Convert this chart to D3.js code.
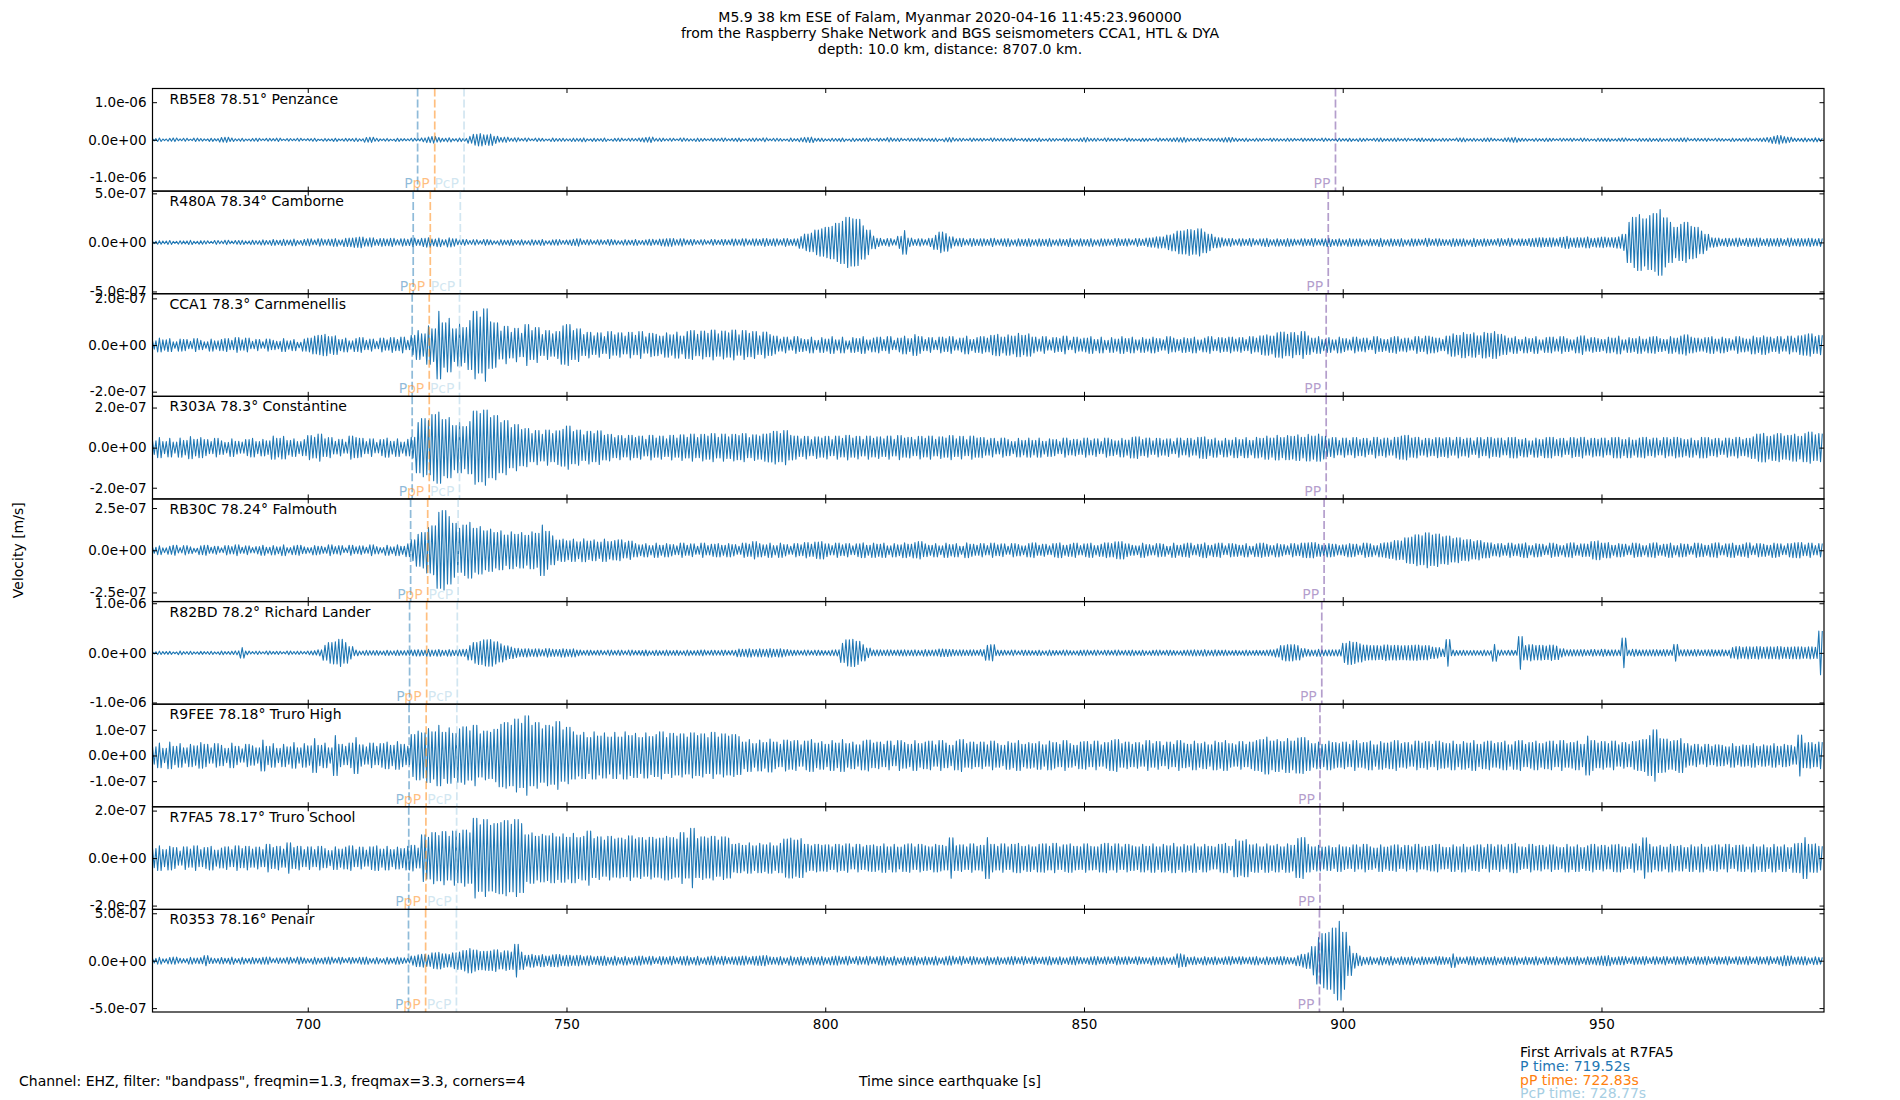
<!DOCTYPE html>
<html lang="en">
<head>
<meta charset="UTF-8">
<title>M5.9 38 km ESE of Falam - Raspberry Shake traces</title>
<style>
  body { margin: 0; background: #fff; }
  svg { display: block; font-family: "DejaVu Sans", sans-serif; }
</style>
</head>
<body>
<div id="container">
  <svg width="1900" height="1100"></svg>
</div>
<script src="https://cdn.jsdelivr.net/npm/d3@7"></script>
<script>

// stations, top to bottom
const stationCodes = ['RB5E8', 'R480A', 'CCA1', 'R303A', 'RB30C', 'R82BD', 'R9FEE', 'R7FA5', 'R0353'];
const stationDist = ['78.51', '78.34', '78.3', '78.3', '78.24', '78.2', '78.18', '78.17', '78.16'];
const stationNames = ['Penzance', 'Camborne', 'Carnmenellis', 'Constantine', 'Falmouth', 'Richard Lander', 'Truro High', 'Truro School', 'Penair'];

// velocity axes, in nm/s
const yTickStep = [1000, 500, 200, 200, 250, 1000, 100, 200, 500];
const yLimit = [1364, 523, 220, 256, 304, 1034, 200, 216, 541];

// arrival times [s] per station
const pTimes = [721.23, 720.38, 720.18, 720.18, 719.88, 719.68, 719.58, 719.52, 719.47];
const pPTimes = [724.54, 723.68, 723.48, 723.48, 723.18, 722.98, 722.88, 722.83, 722.78];
const pcpTimes = [730.20, 729.48, 729.32, 729.32, 729.06, 728.90, 728.81, 728.77, 728.73];
const ppTimes = [898.6, 897.2, 896.8, 896.8, 896.4, 895.95, 895.6, 895.6, 895.5];

const timeStart = 670;
const timeEnd = 993;
const xTickValues = [700, 750, 800, 850, 900, 950];

// peak amplitude per second (nm/s), starting at 670 s
const ampRB5E8 = [
  30, 45, 22, 38, 48, 26, 40, 20, 44, 34,
  25, 42, 30, 60, 68, 45, 28, 40, 22, 36,
  42, 24, 38, 30, 44, 20, 34, 26, 40, 22,
  30, 40, 18, 36, 26, 42, 24, 38, 30, 44,
  28, 62, 68, 40, 24, 36, 20, 42, 30, 26,
  40, 28, 50, 74, 88, 60, 42, 55, 30, 48,
  36, 90, 145, 165, 130, 150, 95, 60, 70, 40,
  55, 30, 48, 26, 44, 38, 22, 46, 34, 40,
  28, 44, 36, 50, 24, 42, 30, 46, 20, 38,
  44, 26, 40, 32, 48, 60, 72, 36, 44, 28,
  40, 22, 46, 34, 28, 44, 36, 24, 42, 30,
  46, 28, 38, 48, 24, 36, 44, 30, 50, 26,
  40, 34, 22, 46, 30, 52, 64, 72, 38, 44,
  26, 40, 34, 48, 22, 44, 30, 38, 46, 24,
  42, 30, 56, 36, 44, 24, 40, 32, 46, 28,
  36, 44, 22, 50, 58, 34, 40, 26, 44, 30,
  38, 24, 46, 32, 40, 28, 44, 22, 36, 42,
  30, 46, 26, 40, 34, 24, 42, 36, 28, 44,
  58, 36, 40, 26, 46, 30, 38, 22, 44, 34,
  26, 42, 36, 24, 44, 30, 40, 48, 56, 62,
  40, 30, 46, 24, 38, 34, 44, 58, 62, 42,
  30, 44, 26, 40, 36, 22, 42, 34, 28, 40,
  36, 24, 42, 30, 38, 26, 44, 32, 24, 40,
  30, 42, 26, 44, 36, 22, 40, 48, 30, 36,
  44, 28, 40, 24, 38, 46, 30, 42, 26, 40,
  34, 24, 46, 50, 30, 40, 28, 44, 48, 32,
  26, 46, 56, 64, 42, 36, 24, 40, 30, 44,
  38, 24, 40, 30, 42, 26, 44, 34, 22, 40,
  36, 42, 26, 38, 46, 30, 24, 40, 34, 44,
  30, 44, 28, 40, 36, 46, 50, 26, 38, 32,
  42, 26, 40, 34, 24, 44, 30, 36, 46, 28,
  40, 48, 62, 95, 115, 85, 70, 44, 38, 52,
  36, 54, 44
];

const ampR480A = [
  12, 18, 14, 20, 10, 17, 15, 21, 12, 18,
  16, 11, 20, 14, 22, 13, 19, 21, 15, 22,
  18, 26, 20, 30, 22, 32, 24, 34, 20, 30,
  36, 24, 38, 28, 33, 40, 26, 42, 44, 50,
  55, 38, 46, 30, 40, 34, 42, 28, 38, 32,
  44, 30, 42, 48, 34, 44, 28, 46, 38, 24,
  30, 20, 28, 18, 30, 24, 16, 28, 22, 30,
  20, 27, 18, 28, 22, 30, 17, 26, 29, 20,
  24, 32, 38, 22, 28, 18, 27, 20, 30, 24,
  18, 28, 22, 30, 20, 26, 32, 24, 34, 38,
  40, 28, 38, 24, 30, 20, 28, 18, 30, 22,
  30, 24, 35, 28, 38, 26, 36, 30, 40, 32,
  38, 28, 40, 30, 36, 60, 85, 95, 125, 140,
  155, 165, 195, 215, 255, 240, 235, 170, 125, 65,
  42, 30, 40, 28, 62, 120, 44, 30, 38, 28,
  42, 72, 105, 90, 58, 36, 42, 28, 40, 32,
  38, 30, 42, 28, 36, 40, 26, 38, 32, 40,
  28, 38, 32, 40, 26, 36, 30, 42, 28, 38,
  30, 40, 26, 38, 34, 28, 40, 32, 38, 26,
  40, 32, 44, 48, 58, 56, 75, 88, 115, 118,
  132, 120, 138, 105, 84, 55, 48, 36, 40, 28,
  38, 30, 40, 26, 36, 42, 28, 38, 30, 40,
  34, 26, 38, 30, 40, 28, 36, 42, 30, 38,
  28, 40, 34, 38, 26, 36, 30, 42, 28, 38,
  32, 40, 26, 38, 34, 28, 42, 30, 38, 32,
  28, 40, 34, 38, 26, 42, 30, 38, 32, 28,
  40, 30, 42, 28, 36, 32, 40, 44, 48, 42,
  46, 38, 52, 62, 44, 50, 46, 56, 42, 48,
  54, 46, 50, 58, 82, 205, 255, 285, 240, 275,
  295, 335, 250, 205, 155, 185, 205, 165, 155, 115,
  82, 48, 44, 34, 42, 36, 44, 32, 42, 38,
  44, 32, 40, 36, 42, 30, 44, 34, 40, 36,
  42, 34, 40
];

const ampCCA1 = [
  18, 30, 22, 28, 14, 26, 24, 16, 28, 20,
  14, 26, 18, 24, 28, 20, 32, 22, 30, 16,
  24, 14, 26, 20, 16, 28, 18, 24, 12, 26,
  30, 38, 42, 46, 36, 40, 24, 30, 18, 28,
  32, 20, 26, 16, 30, 22, 32, 24, 34, 20,
  42, 62, 48, 82, 70, 145, 95, 115, 70, 90,
  75, 105, 145, 120, 155, 100, 95, 60, 80, 55,
  72, 50, 88, 62, 75, 45, 62, 48, 58, 82,
  88, 62, 70, 45, 55, 40, 52, 36, 58, 44,
  52, 38, 55, 42, 58, 35, 50, 46, 38, 52,
  44, 56, 38, 58, 62, 46, 60, 50, 64, 48,
  60, 52, 64, 44, 62, 50, 58, 40, 56, 45,
  38, 26, 34, 22, 36, 28, 24, 34, 20, 32,
  26, 36, 22, 34, 18, 32, 28, 36, 22, 30,
  34, 24, 36, 20, 30, 38, 28, 45, 36, 24,
  32, 20, 34, 28, 36, 22, 30, 38, 24, 32,
  36, 30, 42, 46, 34, 44, 38, 50, 42, 48,
  34, 26, 36, 22, 32, 28, 38, 20, 34, 26,
  30, 36, 24, 34, 20, 32, 26, 36, 28, 34,
  22, 32, 26, 34, 28, 22, 36, 30, 24, 32,
  28, 34, 22, 30, 36, 24, 32, 28, 34, 26,
  32, 24, 36, 30, 40, 44, 38, 52, 56, 46,
  54, 42, 58, 40, 30, 36, 24, 32, 22, 34,
  28, 22, 34, 26, 30, 20, 36, 28, 24, 32,
  36, 26, 30, 22, 36, 28, 38, 34, 30, 24,
  38, 48, 42, 54, 46, 52, 40, 55, 50, 58,
  46, 40, 30, 36, 24, 34, 28, 36, 22, 32,
  34, 26, 36, 28, 22, 34, 40, 26, 32, 28,
  24, 34, 30, 38, 22, 32, 28, 36, 26, 34,
  36, 28, 24, 36, 30, 38, 44, 34, 30, 26,
  32, 36, 26, 34, 28, 22, 36, 30, 26, 38,
  32, 40, 34, 28, 36, 26, 38, 30, 40, 44,
  48, 36, 42
];

const ampR303A = [
  34, 50, 30, 46, 28, 48, 36, 55, 42, 50,
  40, 30, 46, 34, 26, 44, 32, 28, 40, 46,
  30, 42, 34, 58, 46, 56, 36, 44, 30, 40,
  60, 52, 68, 44, 50, 32, 42, 28, 58, 50,
  46, 30, 44, 26, 40, 48, 32, 44, 28, 42,
  52, 125, 145, 135, 165, 178, 140, 150, 110, 125,
  105, 130, 182, 170, 188, 150, 160, 125, 135, 100,
  115, 90, 95, 70, 85, 66, 88, 70, 84, 92,
  108, 80, 88, 64, 82, 70, 84, 62, 66, 50,
  60, 46, 62, 50, 58, 42, 62, 48, 58, 44,
  62, 48, 64, 52, 68, 50, 66, 58, 70, 52,
  68, 54, 66, 60, 70, 50, 64, 58, 68, 72,
  82, 70, 85, 62, 58, 44, 56, 40, 54, 48,
  56, 40, 58, 46, 62, 48, 56, 42, 58, 46,
  54, 44, 58, 42, 60, 48, 52, 40, 56, 46,
  58, 42, 54, 48, 60, 44, 56, 40, 58, 48,
  50, 38, 46, 32, 48, 40, 30, 46, 36, 48,
  36, 48, 32, 44, 40, 30, 48, 36, 42, 34,
  48, 36, 44, 30, 48, 40, 34, 46, 38, 52,
  54, 40, 48, 34, 46, 38, 44, 30, 48, 36,
  46, 38, 52, 54, 40, 48, 34, 46, 38, 50,
  40, 50, 36, 52, 46, 58, 48, 62, 50, 60,
  56, 64, 52, 66, 58, 68, 56, 44, 50, 36,
  48, 36, 50, 40, 46, 34, 52, 40, 48, 38,
  52, 58, 62, 48, 52, 38, 46, 40, 50, 44,
  50, 38, 52, 42, 48, 34, 50, 40, 52, 44,
  48, 36, 50, 52, 40, 46, 34, 48, 40, 50,
  52, 40, 46, 34, 50, 44, 52, 38, 46, 42,
  48, 36, 50, 52, 40, 50, 38, 48, 52, 40,
  48, 36, 50, 42, 52, 46, 40, 48, 36, 52,
  50, 40, 46, 34, 48, 42, 52, 40, 46, 54,
  68, 72, 56, 64, 70, 58, 62, 68, 56, 70,
  78, 64, 70
];

const ampRB30C = [
  18, 26, 14, 24, 30, 16, 28, 20, 12, 26,
  30, 18, 24, 14, 28, 22, 32, 18, 26, 16,
  22, 30, 18, 28, 20, 32, 16, 26, 30, 20,
  16, 28, 24, 18, 32, 22, 28, 14, 30, 20,
  26, 18, 32, 22, 16, 30, 20, 32, 24, 38,
  62, 95, 105, 135, 145, 225, 235, 200, 160, 130,
  150, 165, 130, 140, 115, 125, 105, 115, 90, 110,
  95, 105, 88, 110, 100, 150, 112, 85, 60, 66,
  56, 66, 50, 68, 54, 62, 48, 66, 52, 58,
  62, 46, 54, 40, 32, 40, 28, 42, 30, 40,
  34, 26, 42, 30, 38, 24, 42, 28, 36, 40,
  30, 40, 34, 24, 42, 36, 52, 40, 32, 42,
  28, 42, 34, 24, 40, 32, 46, 36, 48, 52,
  38, 28, 42, 32, 40, 26, 38, 44, 30, 42,
  36, 42, 26, 40, 32, 44, 36, 46, 52, 38,
  30, 40, 26, 42, 34, 40, 24, 44, 36, 30,
  40, 28, 42, 32, 38, 24, 40, 34, 26, 40,
  44, 30, 36, 26, 40, 44, 30, 36, 42, 28,
  38, 42, 28, 36, 44, 40, 50, 52, 38, 30,
  26, 42, 34, 28, 40, 36, 24, 42, 30, 38,
  42, 28, 36, 44, 30, 38, 42, 26, 40, 36,
  30, 40, 24, 38, 42, 36, 28, 40, 34, 26,
  40, 32, 42, 44, 46, 36, 30, 40, 36, 28,
  32, 40, 36, 26, 42, 38, 28, 40, 44, 48,
  58, 55, 74, 78, 92, 85, 104, 90, 96, 80,
  84, 70, 74, 60, 64, 52, 58, 46, 44, 34,
  40, 30, 42, 32, 38, 44, 28, 40, 36, 26,
  42, 36, 28, 40, 44, 30, 38, 36, 52, 56,
  42, 46, 30, 40, 36, 26, 42, 38, 28, 40,
  44, 30, 36, 42, 28, 40, 36, 24, 42, 38,
  30, 40, 44, 28, 38, 42, 30, 36, 44, 26,
  40, 36, 30, 42, 38, 26, 40, 44, 46, 32,
  42, 28, 40
];

const ampR82BD = [
  22, 34, 26, 30, 18, 36, 24, 32, 20, 30,
  24, 32, 20, 36, 26, 34, 40, 105, 38, 24,
  34, 22, 38, 26, 32, 20, 36, 28, 34, 24,
  38, 44, 62, 150, 210, 225, 275, 210, 125, 58,
  36, 50, 44, 48, 38, 52, 40, 54, 44, 50,
  58, 64, 54, 70, 56, 68, 52, 66, 54, 64,
  70, 145, 210, 235, 265, 270, 225, 185, 140, 115,
  92, 76, 84, 70, 80, 64, 86, 72, 68, 84,
  70, 82, 58, 46, 54, 42, 52, 40, 56, 44,
  54, 40, 56, 44, 48, 58, 40, 54, 44, 56,
  46, 52, 40, 56, 44, 50, 58, 42, 52, 46,
  54, 44, 50, 78, 72, 84, 68, 82, 70, 86,
  74, 84, 68, 56, 52, 42, 56, 44, 54, 48,
  44, 56, 62, 195, 265, 275, 235, 165, 95, 58,
  62, 54, 60, 52, 58, 62, 54, 60, 50, 66,
  56, 62, 78, 74, 68, 56, 62, 54, 60, 52,
  66, 150, 165, 56, 52, 44, 56, 40, 54, 50,
  44, 54, 40, 56, 48, 42, 56, 46, 40, 52,
  56, 44, 54, 40, 52, 44, 56, 42, 50, 56,
  44, 54, 40, 52, 56, 42, 54, 48, 40, 52,
  56, 62, 54, 64, 50, 62, 52, 56, 44, 52,
  42, 56, 46, 52, 48, 56, 62, 84, 145, 165,
  165, 145, 86, 68, 56, 70, 58, 62, 60, 64,
  195, 235, 215, 185, 155, 145, 145, 135, 160, 145,
  150, 140, 145, 150, 155, 140, 145, 115, 105, 75,
  270, 58, 48, 52, 46, 50, 44, 56, 46, 170,
  56, 46, 52, 48, 330, 145, 165, 145, 150, 135,
  155, 135, 84, 62, 64, 60, 66, 54, 68, 56,
  70, 58, 62, 56, 300, 56, 70, 58, 62, 60,
  64, 58, 66, 54, 170, 60, 64, 58, 66, 54,
  60, 66, 58, 64, 56, 105, 125, 110, 122, 115,
  125, 110, 120, 118, 126, 112, 116, 120, 124, 110,
  124, 114, 440
];

const ampR9FEE = [
  34, 48, 28, 52, 36, 46, 30, 44, 38, 50,
  44, 30, 46, 40, 28, 48, 36, 26, 44, 38,
  30, 60, 36, 46, 28, 44, 34, 50, 30, 46,
  38, 66, 40, 48, 30, 78, 44, 36, 48, 70,
  42, 34, 48, 36, 46, 52, 40, 54, 44, 36,
  82, 95, 88, 105, 92, 118, 90, 108, 86, 104,
  112, 96, 118, 84, 95, 90, 102, 122, 128, 118,
  142, 125, 155, 118, 128, 104, 118, 112, 132, 100,
  110, 92, 80, 90, 70, 92, 76, 88, 72, 90,
  72, 92, 78, 86, 70, 88, 74, 82, 92, 70,
  86, 76, 84, 72, 88, 78, 84, 70, 90, 72,
  84, 76, 82, 74, 52, 62, 46, 60, 50, 64,
  52, 44, 60, 54, 58, 42, 56, 62, 48, 54,
  44, 58, 48, 62, 46, 52, 42, 56, 60, 48,
  52, 44, 56, 40, 58, 50, 44, 58, 46, 52,
  56, 42, 58, 48, 40, 56, 62, 46, 52, 44,
  52, 42, 56, 46, 40, 54, 48, 58, 44, 50,
  46, 54, 42, 56, 50, 44, 58, 46, 40, 52,
  54, 44, 56, 42, 50, 58, 62, 46, 52, 44,
  50, 42, 58, 46, 54, 40, 52, 44, 58, 48,
  44, 56, 46, 52, 42, 56, 50, 58, 46, 42,
  54, 44, 52, 58, 62, 72, 56, 62, 54, 66,
  56, 68, 70, 58, 46, 52, 44, 56, 50, 46,
  52, 44, 58, 46, 50, 56, 42, 54, 48, 52,
  58, 46, 50, 42, 56, 48, 54, 44, 56, 50,
  46, 56, 44, 54, 48, 58, 44, 52, 56, 46,
  50, 56, 42, 54, 58, 44, 50, 56, 46, 52,
  56, 44, 58, 46, 50, 56, 44, 76, 58, 48,
  54, 46, 56, 42, 50, 44, 54, 58, 62, 78,
  100, 66, 64, 54, 58, 66, 46, 38, 44, 34,
  44, 36, 42, 40, 34, 46, 36, 42, 40, 46,
  36, 42, 38, 46, 36, 44, 40, 34, 80, 48,
  50, 44, 52
];

const ampR7FA5 = [
  40, 52, 36, 50, 44, 30, 48, 38, 52, 36,
  44, 50, 34, 42, 48, 36, 52, 40, 50, 38,
  46, 36, 58, 44, 50, 38, 64, 44, 50, 36,
  48, 36, 50, 40, 32, 48, 38, 46, 52, 36,
  46, 34, 48, 52, 38, 50, 36, 46, 40, 50,
  54, 42, 98, 88, 108, 95, 112, 92, 114, 104,
  118, 106, 168, 140, 162, 138, 145, 150, 158, 142,
  162, 145, 98, 106, 92, 100, 94, 104, 90, 102,
  88, 104, 86, 92, 114, 82, 90, 76, 92, 80,
  84, 78, 94, 80, 86, 76, 88, 80, 84, 92,
  86, 80, 107, 84, 125, 82, 90, 84, 92, 76,
  90, 84, 58, 62, 54, 64, 52, 62, 56, 64,
  52, 62, 80, 84, 76, 82, 58, 52, 58, 54,
  56, 48, 58, 52, 60, 46, 58, 48, 54, 56,
  50, 60, 48, 58, 46, 56, 60, 48, 58, 52,
  48, 58, 54, 50, 85, 52, 56, 48, 60, 50,
  54, 86, 58, 50, 60, 48, 58, 62, 50, 56,
  48, 58, 60, 50, 62, 48, 56, 60, 50, 48,
  60, 50, 48, 58, 62, 50, 60, 48, 58, 52,
  48, 58, 50, 60, 48, 58, 52, 62, 48, 58,
  52, 60, 48, 58, 50, 46, 58, 62, 50, 78,
  72, 78, 56, 60, 48, 60, 52, 58, 48, 60,
  54, 82, 86, 58, 48, 54, 46, 52, 44, 56,
  48, 44, 56, 46, 58, 48, 42, 56, 46, 52,
  56, 44, 54, 48, 58, 46, 50, 54, 58, 46,
  44, 56, 48, 58, 46, 52, 56, 44, 58, 48,
  56, 46, 58, 62, 48, 44, 58, 50, 54, 46,
  56, 48, 44, 58, 48, 56, 44, 52, 58, 48,
  54, 46, 56, 58, 48, 44, 60, 50, 85, 58,
  48, 54, 46, 58, 50, 54, 44, 56, 48, 58,
  46, 52, 56, 46, 58, 44, 54, 56, 46, 58,
  48, 56, 44, 58, 48, 56, 44, 60, 62, 86,
  58, 60, 50
];

const ampR0353 = [
  24, 36, 20, 34, 38, 26, 22, 36, 28, 32,
  54, 30, 24, 34, 26, 38, 22, 36, 24, 34,
  26, 36, 38, 22, 30, 26, 36, 24, 38, 28,
  22, 36, 26, 34, 38, 24, 36, 22, 34, 26,
  36, 38, 24, 34, 22, 36, 26, 38, 30, 24,
  48, 62, 68, 60, 82, 88, 72, 66, 84, 92,
  108, 128, 112, 96, 100, 102, 114, 86, 104, 92,
  172, 92, 58, 68, 54, 64, 50, 62, 66, 52,
  58, 50, 56, 44, 52, 40, 46, 50, 36, 48,
  34, 46, 32, 44, 48, 36, 46, 30, 44, 36,
  46, 32, 44, 48, 34, 46, 30, 42, 48, 36,
  46, 34, 40, 44, 48, 36, 46, 50, 54, 40,
  36, 44, 30, 48, 36, 46, 32, 44, 36, 46,
  32, 44, 48, 36, 46, 30, 44, 36, 46, 32,
  44, 48, 34, 46, 30, 44, 36, 46, 32, 44,
  36, 46, 30, 44, 48, 34, 46, 30, 44, 36,
  30, 44, 32, 42, 30, 38, 44, 32, 44, 30,
  42, 30, 38, 44, 32, 42, 30, 40, 44, 34,
  30, 40, 44, 32, 40, 30, 44, 36, 42, 30,
  42, 34, 30, 44, 36, 42, 30, 40, 72, 62,
  36, 42, 30, 44, 34, 42, 30, 40, 44, 32,
  42, 32, 38, 44, 30, 42, 34, 40, 44, 36,
  32, 52, 68, 82, 150, 245, 285, 300, 345, 415,
  300, 155, 78, 52, 36, 42, 30, 44, 34, 46,
  30, 42, 36, 44, 30, 42, 36, 32, 44, 40,
  34, 72, 38, 30, 42, 44, 32, 42, 36, 44,
  30, 42, 36, 44, 30, 42, 34, 44, 30, 42,
  34, 44, 30, 42, 36, 44, 30, 42, 36, 44,
  50, 54, 36, 42, 44, 30, 42, 36, 44, 30,
  42, 34, 44, 30, 42, 36, 44, 30, 42, 36,
  44, 30, 42, 34, 44, 30, 42, 36, 44, 30,
  42, 34, 44, 30, 42, 54, 50, 36, 40, 44,
  30, 42, 36
];

const amplitudes = [ampRB5E8, ampR480A, ampCCA1, ampR303A, ampRB30C, ampR82BD, ampR9FEE, ampR7FA5, ampR0353];

// first arrivals box
const refStation = 'R7FA5';
const arrivalLabels = ['P', 'pP', 'PcP'];
const arrivalRefTimes = [719.52, 722.83, 728.77];

const svg = d3.select('svg');

const margin = { left: 152.5, right: 76, top: 88.5, bottom: 88 };
const width = 1900 - margin.left - margin.right;
const panelH = (1100 - margin.top - margin.bottom) / stationCodes.length;

const traceColor = '#1f77b4';
const phaseColors = { P: '#1f78b4', pP: '#ff7f00', PcP: '#a6cee3', PP: '#6a3d9a' };
const legendColors = ['#1f77b4', '#ff7f0e', '#a6cee3'];

const xScale = d3.scaleLinear()
    .domain([timeStart, timeEnd])
    .range([0, width]);

// 1.0e-06 style labels
function sciFormat(v) {
    var s = (v * 1e-9).toExponential(1);
    return s.replace(/e([+-])(\d)$/, 'e$10$2');
}

const line = d3.line()
    .x(d => xScale(d[0]))
    .y(d => d[1]);

stationCodes.forEach(function (code, i) {
    const top = margin.top + i * panelH;
    const yScale = d3.scaleLinear()
        .domain([-yLimit[i], yLimit[i]])
        .range([panelH, 0]);

    const panel = svg.append('g')
        .attr('transform', `translate(${margin.left}, ${top})`);

    panel.append('clipPath')
        .attr('id', 'clip' + i)
        .append('rect')
        .attr('width', width)
        .attr('height', panelH);

    // three swings per second to that second's peak, sign alternating throughout
    const pts = [];
    let sign = 1;
    amplitudes[i].forEach(function (a, k) {
        const t = timeStart + k;
        [0, 1 / 3, 2 / 3].forEach(function (dt) {
            pts.push([t + dt, yScale(sign * a)]);
            sign = -sign;
        });
    });

    panel.append('path')
        .attr('clip-path', `url(#clip${i})`)
        .attr('d', line(pts))
        .attr('fill', 'none')
        .attr('stroke', traceColor)
        .attr('stroke-width', 1.1)
        .attr('stroke-linejoin', 'round');

    // phase markers
    const phases = [
        ['P', pTimes[i]],
        ['pP', pPTimes[i]],
        ['PcP', pcpTimes[i]],
        ['PP', ppTimes[i]]
    ];
    phases.forEach(function (ph) {
        const px = xScale(ph[1]);
        panel.append('line')
            .attr('x1', px).attr('x2', px)
            .attr('y1', 0).attr('y2', panelH)
            .attr('stroke', phaseColors[ph[0]])
            .attr('stroke-opacity', 0.5)
            .attr('stroke-width', 1.7)
            .attr('stroke-dasharray', '8,3');
        panel.append('text')
            .attr('x', px - 5)
            .attr('y', panelH - 3)
            .attr('text-anchor', 'end')
            .attr('fill', phaseColors[ph[0]])
            .attr('fill-opacity', 0.5)
            .attr('font-size', '14px')
            .text(ph[0]);
    });

    // ticks on all four sides, pointing in
    const yTicks = [-yTickStep[i], 0, yTickStep[i]];
    const yAxis = panel.append('g')
        .call(d3.axisLeft(yScale)
            .tickValues(yTicks)
            .tickSizeInner(-4.5)
            .tickSizeOuter(0)
            .tickPadding(6)
            .tickFormat(sciFormat));
    yAxis.select('.domain').remove();
    yAxis.selectAll('text')
        .attr('font-size', '13.5px')
        .attr('font-family', '"DejaVu Sans", sans-serif')
        .attr('fill', '#000');

    const yAxisR = panel.append('g')
        .attr('transform', `translate(${width}, 0)`)
        .call(d3.axisRight(yScale).tickValues(yTicks).tickSizeInner(-4.5).tickSizeOuter(0).tickFormat(''));
    yAxisR.select('.domain').remove();

    const xTop = panel.append('g')
        .call(d3.axisTop(xScale).tickValues(xTickValues).tickSizeInner(-4.5).tickSizeOuter(0).tickFormat(''));
    xTop.select('.domain').remove();

    const last = i === stationCodes.length - 1;
    const xBottom = panel.append('g')
        .attr('transform', `translate(0, ${panelH})`)
        .call(d3.axisBottom(xScale)
            .tickValues(xTickValues)
            .tickSizeInner(-4.5)
            .tickSizeOuter(0)
            .tickPadding(7)
            .tickFormat(last ? d3.format('d') : ''));
    xBottom.select('.domain').remove();
    xBottom.selectAll('text')
        .attr('font-size', '13.5px')
        .attr('font-family', '"DejaVu Sans", sans-serif')
        .attr('fill', '#000');

    panel.selectAll('.tick line').attr('stroke', '#000').attr('stroke-width', 1);

    panel.append('rect')
        .attr('width', width)
        .attr('height', panelH)
        .attr('fill', 'none')
        .attr('stroke', '#000')
        .attr('stroke-width', 1.2);

    panel.append('text')
        .attr('x', 17)
        .attr('y', 15)
        .attr('font-size', '14px')
        .attr('fill', '#000')
        .text(`${code} ${stationDist[i]}° ${stationNames[i]}`);
});

// title
const titleLines = [
    'M5.9 38 km ESE of Falam, Myanmar 2020-04-16 11:45:23.960000',
    'from the Raspberry Shake Network and BGS seismometers CCA1, HTL & DYA',
    'depth: 10.0 km, distance: 8707.0 km.'
];
svg.append('g').selectAll('text')
    .data(titleLines)
    .enter()
    .append('text')
    .attr('x', 950)
    .attr('y', (d, i) => 22 + i * 16)
    .attr('text-anchor', 'middle')
    .attr('font-size', '14px')
    .text(d => d);

svg.append('text')
    .attr('transform', `translate(23, ${margin.top + panelH * 4.5}) rotate(-90)`)
    .attr('text-anchor', 'middle')
    .attr('font-size', '14px')
    .text('Velocity [m/s]');

svg.append('text')
    .attr('x', 950)
    .attr('y', 1086)
    .attr('text-anchor', 'middle')
    .attr('font-size', '14px')
    .text('Time since earthquake [s]');

svg.append('text')
    .attr('x', 19)
    .attr('y', 1086)
    .attr('font-size', '14px')
    .text('Channel: EHZ, filter: "bandpass", freqmin=1.3, freqmax=3.3, corners=4');

svg.append('text')
    .attr('x', 1520)
    .attr('y', 1057)
    .attr('font-size', '14px')
    .attr('fill', '#000')
    .text('First Arrivals at ' + refStation);

arrivalLabels.forEach(function (ph, k) {
    svg.append('text')
        .attr('x', 1520)
        .attr('y', 1071 + k * 13.7)
        .attr('font-size', '14px')
        .attr('fill', legendColors[k])
        .text(`${ph} time: ${arrivalRefTimes[k].toFixed(2)}s`);
});

</script>
</body>
</html>
